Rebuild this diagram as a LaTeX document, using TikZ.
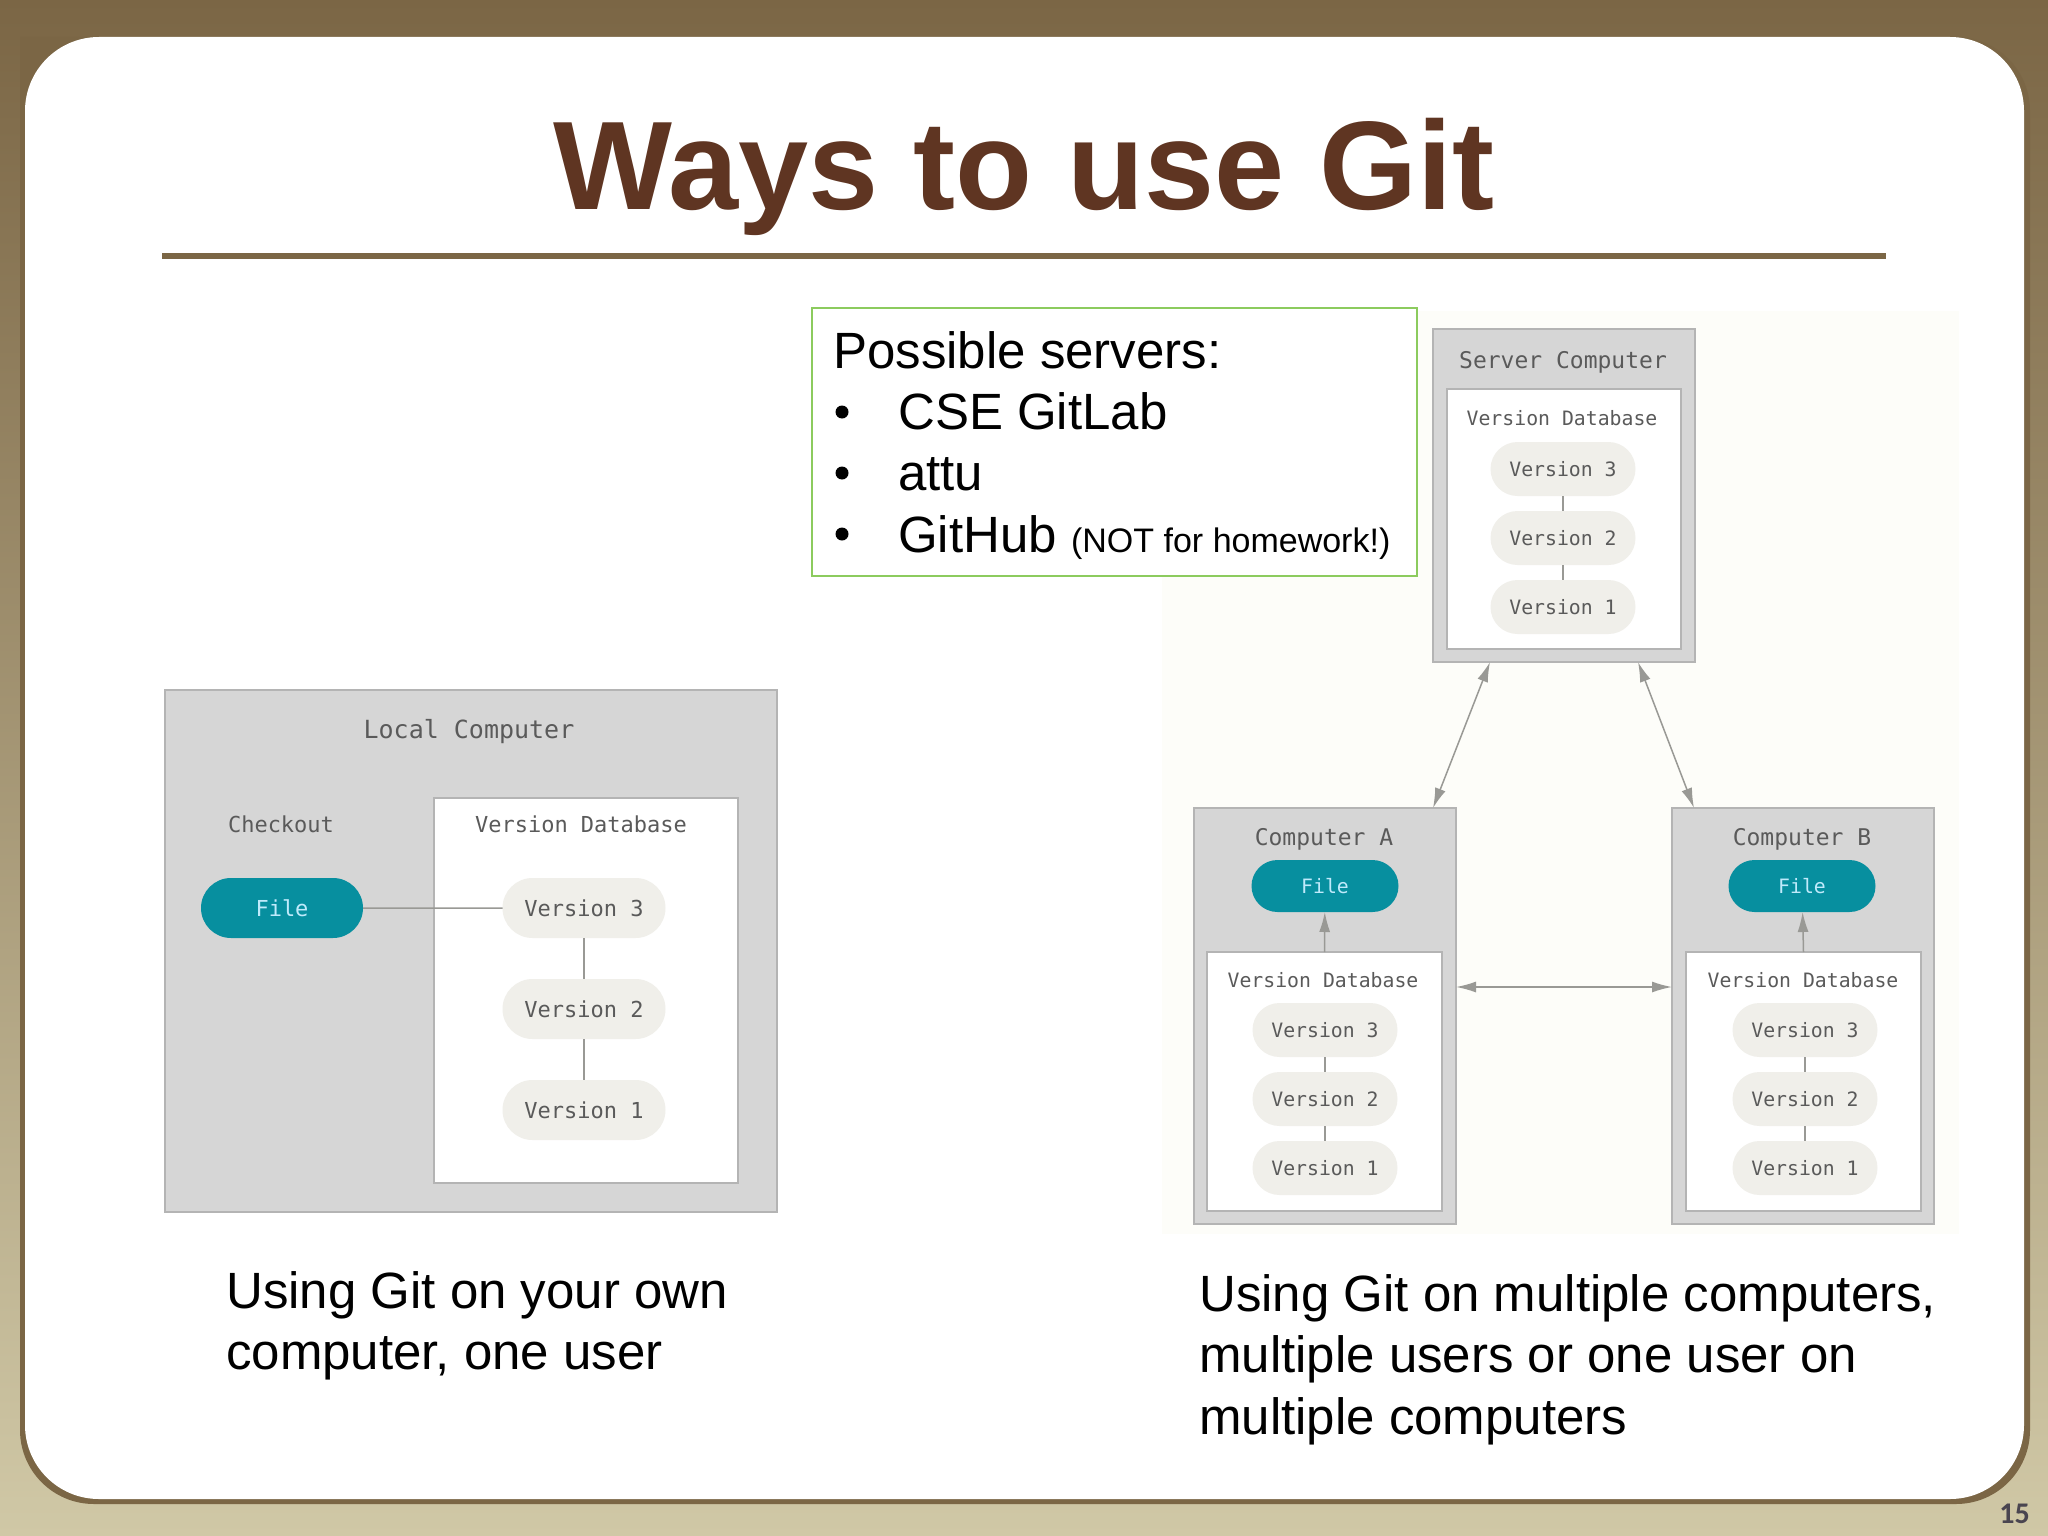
\documentclass[tikz,border=0pt]{standalone}
\usepackage{xcolor}
\usepackage{fontspec}
\setmainfont{Liberation Sans}
\newfontfamily\boxfont{DejaVu Sans Mono}
\newfontfamily\pagefont{Carlito}
\usepackage{tikz}
\usetikzlibrary{shapes, arrows.meta, positioning}
\definecolor{frametop}{HTML}{7B6645}
\definecolor{framebot}{HTML}{D0C8A6}
\definecolor{titlebrown}{HTML}{5F3522}
\definecolor{boxgrey}{HTML}{D6D6D6}
\definecolor{edgegrey}{HTML}{B4B4B4}
\definecolor{linkgrey}{HTML}{999995}
\definecolor{pillgrey}{HTML}{F0EFEA}
\definecolor{fileteal}{HTML}{078F9F}
\definecolor{labelgrey}{HTML}{5A5A5A}
\definecolor{offwhite}{HTML}{FDFDF9}
\definecolor{boxgreen}{HTML}{8CCB5E}
\definecolor{pagegrey}{HTML}{4A4550}
\tikzstyle{computer} = [rectangle, draw=edgegrey, line width=2pt, fill=boxgrey, inner sep=0pt, outer sep=0pt]
\tikzstyle{database} = [rectangle, draw=edgegrey, line width=2pt, fill=white, inner sep=0pt, outer sep=0pt]
\tikzstyle{version} = [rounded rectangle, fill=pillgrey, inner sep=0pt, outer sep=0pt, text=labelgrey,
    minimum width=145pt, minimum height=54pt, font=\boxfont\fontsize{19.8}{24}\selectfont]
\tikzstyle{bigversion} = [version, minimum width=163pt, minimum height=60pt, font=\boxfont\fontsize{22}{26}\selectfont]
\tikzstyle{file} = [rounded rectangle, fill=fileteal, inner sep=0pt, outer sep=0pt, text=cyan!25,
    minimum width=147pt, minimum height=52pt, font=\boxfont\fontsize{19.8}{24}\selectfont]
\tikzstyle{label} = [text=labelgrey, inner sep=0pt, font=\boxfont\fontsize{19.8}{24}\selectfont]
\tikzstyle{biglabel} = [label, font=\boxfont\fontsize{22}{26}\selectfont]
\tikzstyle{headlabel} = [label, font=\boxfont\fontsize{23}{28}\selectfont]
\tikzstyle{link} = [draw=linkgrey, line width=1.5pt]
\tikzstyle{sync} = [link, {Latex[length=20pt,width=11pt]}-{Latex[length=20pt,width=11pt]}]
\tikzstyle{push} = [link, -{Latex[length=20pt,width=11pt]}]
\tikzstyle{bodytext} = [inner sep=0pt, anchor=base west, font=\fontsize{51}{61}\selectfont]
\tikzstyle{bulletmark} = [circle, fill=black, inner sep=0pt, minimum size=13pt]
\begin{document}
\begin{tikzpicture}[x=1pt, y=-1pt, node distance = 15pt]
      \useasboundingbox (0,0) rectangle (2048,1536);
      % slide
      \shade [top color=frametop, bottom color=framebot] (0,0) rectangle (2048,1536);
      \fill [frametop] (20,37) [rounded corners=74pt] -- (20,1504) -- (2030,1504) -- (2030,37) [sharp corners] -- cycle;
      \fill [white, rounded corners=74pt] (25,37) rectangle (2024,1499);
      \node [inner sep=0pt, anchor=base, text=titlebrown, font=\bfseries\fontsize{126}{130}\selectfont] (slide-title) at (1024,209) {Ways to use Git};
      \fill [frametop] (162,253) rectangle (1886,259);
      \node [inner sep=0pt, anchor=base east, text=pagegrey, font=\pagefont\bfseries\fontsize{30}{32}\selectfont] (page-number) at (2030,1523) {15};
      % local computer
      \node [computer, minimum width=612pt, minimum height=522pt] (local) at (471,951) {};
      \node [database, minimum width=304pt, minimum height=385pt] (local-db) at (586,990.5) {};
      \node [headlabel, font=\boxfont\fontsize{25}{30}\selectfont] (local-title) at (469,732) {Local Computer};
      \node [biglabel] (local-checkout) at (281,824) {Checkout};
      \node [biglabel] (local-db-title) at (581,824) {Version Database};
      \node [bigversion] (local-v3) at (584,908) {Version 3};
      \node [bigversion, below=41pt of local-v3] (local-v2) {Version 2};
      \node [bigversion, below=41pt of local-v2] (local-v1) {Version 1};
      \node [file, minimum width=162pt, minimum height=60pt, font=\boxfont\fontsize{22}{26}\selectfont] (local-file) at (282,908) {File};
      % right-hand picture
      \fill [offwhite] (1162,311) rectangle (1959,1234);
      % server
      \node [computer, minimum width=262pt, minimum height=333pt] (server) at (1564,495.5) {};
      \node [database, minimum width=234pt, minimum height=260pt] (server-db) at (1564,519) {};
      \node [headlabel] (server-title) at (1563,362) {Server Computer};
      \node [label] (server-db-title) at (1562,418) {Version Database};
      \node [version] (server-v3) at (1563,469) {Version 3};
      \node [version, below=of server-v3] (server-v2) {Version 2};
      \node [version, below=of server-v2] (server-v1) {Version 1};
      % computer A
      \node [computer, minimum width=262pt, minimum height=416pt] (comp-a) at (1325,1016) {};
      \node [database, minimum width=235pt, minimum height=259pt] (comp-a-db) at (1324.5,1081.5) {};
      \node [headlabel] (comp-a-title) at (1324,839) {Computer A};
      \node [file] (comp-a-file) at (1325,886) {File};
      \node [label] (comp-a-db-title) at (1323,980) {Version Database};
      \node [version] (comp-a-v3) at (1325,1030) {Version 3};
      \node [version, below=of comp-a-v3] (comp-a-v2) {Version 2};
      \node [version, below=of comp-a-v2] (comp-a-v1) {Version 1};
      % computer B
      \node [computer, minimum width=262pt, minimum height=416pt] (comp-b) at (1803,1016) {};
      \node [database, minimum width=235pt, minimum height=259pt] (comp-b-db) at (1803.5,1081.5) {};
      \node [headlabel] (comp-b-title) at (1802,839) {Computer B};
      \node [file] (comp-b-file) at (1802,886) {File};
      \node [label] (comp-b-db-title) at (1803,980) {Version Database};
      \node [version] (comp-b-v3) at (1805,1030) {Version 3};
      \node [version, below=of comp-b-v3] (comp-b-v2) {Version 2};
      \node [version, below=of comp-b-v2] (comp-b-v1) {Version 1};
      % servers box
      \node [rectangle, draw=boxgreen, line width=2pt, fill=white, inner sep=0pt, minimum width=605pt, minimum height=268pt] (servers-box) at (1114.5,442) {};
      \node [bodytext] (servers-head) at (833,368) {Possible servers:};
      \node [bulletmark] (bullet-a) at (842,412) {};
      \node [bulletmark] (bullet-b) at (842,473) {};
      \node [bulletmark] (bullet-c) at (842,534) {};
      \node [bodytext] (server-gitlab) at (898,429.5) {CSE GitLab};
      \node [bodytext] (server-attu) at (898,490.5) {attu};
      \node [bodytext] (server-github) at (898,552) {GitHub \fontsize{34}{40}\selectfont(NOT for homework!)};
      % captions
      \node [bodytext] (local-caption-a) at (226,1308.5) {Using Git on your own};
      \node [bodytext] (local-caption-b) at (226,1369.5) {computer, one user};
      \node [bodytext] (multi-caption-a) at (1199,1311) {Using Git on multiple computers,};
      \node [bodytext] (multi-caption-b) at (1199,1372) {multiple users or one user on};
      \node [bodytext] (multi-caption-c) at (1199,1434) {multiple computers};
      % Draw edges
      \path [link] (local-file) -- (local-v3);
      \path [link] (local-v3) -- (local-v2);
      \path [link] (local-v2) -- (local-v1);
      \path [link] (server-v3) -- (server-v2);
      \path [link] (server-v2) -- (server-v1);
      \path [link] (comp-a-v3) -- (comp-a-v2);
      \path [link] (comp-a-v2) -- (comp-a-v1);
      \path [link] (comp-b-v3) -- (comp-b-v2);
      \path [link] (comp-b-v2) -- (comp-b-v1);
      \path [push] (comp-a-db.north) -- (comp-a-file);
      \path [push] (comp-b-db.north) -- (comp-b-file);
      \path [sync] ([xshift=-74pt]server.south) -- ([xshift=108pt]comp-a.north);
      \path [sync] ([xshift=74pt]server.south) -- ([xshift=-109pt]comp-b.north);
      \path [sync] ([yshift=29pt]comp-a.east) -- ([yshift=29pt]comp-b.west);
  \end{tikzpicture}
\end{document}
